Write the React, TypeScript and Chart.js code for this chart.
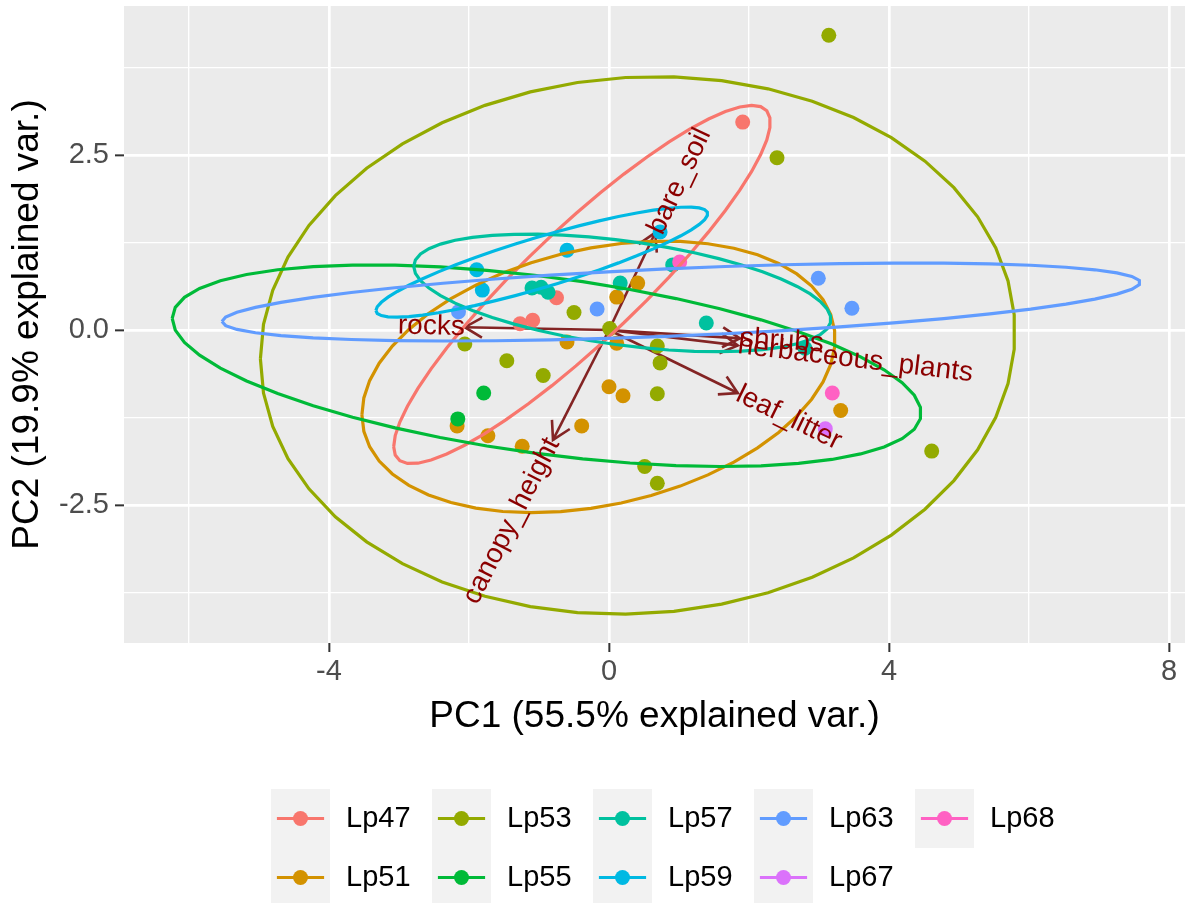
import React, { useEffect, useRef } from "react";
import { Chart, registerables } from "chart.js";

Chart.register(...registerables);

const FONT_FAMILY = '"Liberation Sans", Arial, Helvetica, sans-serif';

// ---- Groups and colours (ggplot hue palette) ----
const groupNames = ["Lp47", "Lp51", "Lp53", "Lp55", "Lp57", "Lp59", "Lp63", "Lp67", "Lp68"];
const groupColors = ["#F8766D", "#D39200", "#93AA00", "#00BA38", "#00C19F", "#00B9E3", "#619CFF", "#DB72FB", "#FF61C3"];

// ---- PC scores per group (PC1 = x, PC2 = y) ----
const lp47PC1 = [1.91, -0.75, -1.09, -1.27];
const lp47PC2 = [2.97, 0.46, 0.14, 0.09];
const lp51PC1 = [0.41, 0.11, -0.6, 0.11, 0.0, 0.2, -2.17, -1.73, -1.24, -0.39, 3.31];
const lp51PC2 = [0.67, 0.47, -0.17, -0.19, -0.81, -0.94, -1.37, -1.51, -1.66, -1.37, -1.15];
const lp53PC1 = [3.14, 2.4, -0.5, 0.01, -2.06, -1.46, -0.94, 0.69, 0.73, 0.69, 0.51, 0.69, 4.61];
const lp53PC2 = [4.21, 2.46, 0.25, 0.02, -0.2, -0.44, -0.65, -0.23, -0.47, -0.91, -1.95, -2.19, -1.73];
const lp55PC1 = [-1.79, -2.16];
const lp55PC2 = [-0.9, -1.27];
const lp57PC1 = [0.91, 0.16, -1.1, -0.97, -0.87, 1.39, 2.8];
const lp57PC2 = [0.93, 0.67, 0.6, 0.61, 0.54, 0.1, -0.26];
const lp59PC1 = [0.73, -0.6, -1.89, -1.81];
const lp59PC2 = [1.4, 1.14, 0.86, 0.57];
const lp63PC1 = [-2.15, -0.17, 2.99, 3.47];
const lp63PC2 = [0.26, 0.3, 0.74, 0.31];
const lp67PC1 = [3.09];
const lp67PC2 = [-1.41];
const lp68PC1 = [1.01, 3.19];
const lp68PC2 = [0.97, -0.9];

// ---- Concentration ellipses (centre, half extents along PC1/PC2, correlation) ----
const ellipseGroups = ["Lp47", "Lp51", "Lp53", "Lp55", "Lp57", "Lp59", "Lp63"];
const ellipseCx = [-0.386, -0.15, 0.41, -0.89, 0.19, -0.96, 1.03];
const ellipseCy = [0.65, -0.67, -0.22, -0.51, 0.53, 0.97, 0.4];
const ellipseHalfX = [2.69, 3.38, 5.39, 5.35, 2.98, 2.37, 6.56];
const ellipseHalfY = [2.56, 1.94, 3.84, 1.44, 0.84, 0.786, 0.557];
const ellipseRho = [0.905, 0.28, 0.05, -0.47, -0.45, 0.88, 0.5];

// ---- Variable loadings (arrows) ----
const varNames = ["bare_soil", "canopy_height", "herbaceous_plants", "leaf_litter", "rocks", "shrubs"];
const varPC1 = [0.66, -0.8, 1.84, 1.84, -2.06, 1.87];
const varPC2 = [1.39, -1.57, -0.22, -0.9, 0.04, -0.12];

// ---- Axes ----
const xAxisMin = -6.9286;
const xAxisMax = 8.2286;
const yAxisMin = -4.4714;
const yAxisMax = 4.6286;
const xMajorTicks = [-4, 0, 4, 8];
const xTickLabels = ["-4", "0", "4", "8"];
const xMinorTicks = [-6, -2, 2, 6];
const yMajorTicks = [-2.5, 0, 2.5];
const yTickLabels = ["-2.5", "0.0", "2.5"];
const yMinorTicks = [-3.75, -1.25, 1.25, 3.75];
const xTitle = "PC1 (55.5% explained var.)";
const yTitle = "PC2 (19.9% explained var.)";

const groupPC1 = [lp47PC1, lp51PC1, lp53PC1, lp55PC1, lp57PC1, lp59PC1, lp63PC1, lp67PC1, lp68PC1];
const groupPC2 = [lp47PC2, lp51PC2, lp53PC2, lp55PC2, lp57PC2, lp59PC2, lp63PC2, lp67PC2, lp68PC2];

const ARROW_COLOR = "#832424";
const LABEL_COLOR = "#8B0000";

const isMajor = (v: number, majors: number[]) => majors.some((m) => Math.abs(m - v) < 1e-9);

export default function App() {
  const ref = useRef<HTMLCanvasElement>(null);

  useEffect(() => {
    const canvas = ref.current;
    if (!canvas) return;

    const datasets: any[] = [];

    // arrow shafts (bottom layer)
    varNames.forEach((name, i) => {
      datasets.push({
        label: name,
        data: [
          { x: 0, y: 0 },
          { x: varPC1[i], y: varPC2[i] },
        ],
        showLine: true,
        borderColor: ARROW_COLOR,
        backgroundColor: ARROW_COLOR,
        borderWidth: 2.6,
        pointRadius: 0,
        fill: false,
        order: 100,
      });
    });

    // points
    groupNames.forEach((g, i) => {
      datasets.push({
        label: g,
        data: groupPC1[i].map((x, j) => ({ x, y: groupPC2[i][j] })),
        showLine: false,
        pointRadius: 7.5,
        pointHoverRadius: 7.5,
        pointBackgroundColor: groupColors[i],
        pointBorderColor: groupColors[i],
        pointBorderWidth: 0,
        order: 50 - i,
      });
    });

    // ellipses
    ellipseGroups.forEach((g, k) => {
      const gi = groupNames.indexOf(g);
      const rho = ellipseRho[k];
      const r = Math.sqrt(1 - rho * rho);
      const pts: { x: number; y: number }[] = [];
      const n = 50;
      for (let s = 0; s < n; s++) {
        const t = -Math.PI + (2 * Math.PI * s) / (n - 1);
        const c = Math.cos(t);
        const sn = Math.sin(t);
        pts.push({
          x: ellipseCx[k] + ellipseHalfX[k] * c,
          y: ellipseCy[k] + ellipseHalfY[k] * (rho * c + r * sn),
        });
      }
      datasets.push({
        label: g + " ellipse",
        data: pts,
        showLine: true,
        borderColor: groupColors[gi],
        backgroundColor: groupColors[gi],
        borderWidth: 3.2,
        pointRadius: 0,
        fill: false,
        tension: 0,
        order: 10 - k * 0.1,
      });
    });

    const backgroundPlugin = {
      id: "panelBackground",
      beforeDraw(chart: any) {
        const { ctx, chartArea } = chart;
        ctx.save();
        ctx.fillStyle = "#FFFFFF";
        ctx.fillRect(0, 0, chart.width, chart.height);
        ctx.fillStyle = "#EBEBEB";
        ctx.fillRect(chartArea.left, chartArea.top, chartArea.right - chartArea.left, chartArea.bottom - chartArea.top);
        ctx.restore();
      },
    };

    const arrowHeadPlugin = {
      id: "arrowHeads",
      beforeDatasetsDraw(chart: any) {
        const { ctx, chartArea } = chart;
        const xs = chart.scales.x;
        const ys = chart.scales.y;
        ctx.save();
        ctx.beginPath();
        ctx.rect(chartArea.left, chartArea.top, chartArea.right - chartArea.left, chartArea.bottom - chartArea.top);
        ctx.clip();
        ctx.strokeStyle = ARROW_COLOR;
        ctx.lineWidth = 2.6;
        ctx.lineJoin = "miter";
        const L = 20;
        const a = Math.PI / 6;
        varNames.forEach((_, i) => {
          const x0 = xs.getPixelForValue(0);
          const y0 = ys.getPixelForValue(0);
          const x1 = xs.getPixelForValue(varPC1[i]);
          const y1 = ys.getPixelForValue(varPC2[i]);
          const ang = Math.atan2(y1 - y0, x1 - x0);
          ctx.beginPath();
          ctx.moveTo(x1 - L * Math.cos(ang - a), y1 - L * Math.sin(ang - a));
          ctx.lineTo(x1, y1);
          ctx.lineTo(x1 - L * Math.cos(ang + a), y1 - L * Math.sin(ang + a));
          ctx.stroke();
        });
        ctx.restore();
      },
    };

    const varLabelPlugin = {
      id: "varLabels",
      afterDatasetsDraw(chart: any) {
        const { ctx } = chart;
        const xs = chart.scales.x;
        const ys = chart.scales.y;
        ctx.save();
        ctx.fillStyle = LABEL_COLOR;
        ctx.font = `28px ${FONT_FAMILY}`;
        ctx.textBaseline = "middle";
        varNames.forEach((name, i) => {
          const px = xs.getPixelForValue(varPC1[i]);
          const py = ys.getPixelForValue(varPC2[i]);
          const angle = Math.atan(varPC2[i] / varPC1[i]);
          ctx.save();
          ctx.translate(px, py);
          ctx.rotate(-angle);
          ctx.textAlign = varPC1[i] > 0 ? "left" : "right";
          ctx.fillText(name, 0, 0);
          ctx.restore();
        });
        ctx.restore();
      },
    };

    const legendPlugin = {
      id: "groupLegend",
      afterDraw(chart: any) {
        const { ctx } = chart;
        const keySize = 59;
        const colPitch = 161;
        const left0 = 271;
        const top0 = 789;
        ctx.save();
        groupNames.forEach((g, i) => {
          const col = Math.floor(i / 2);
          const row = i % 2;
          const kx = left0 + col * colPitch;
          const ky = top0 + row * keySize;
          ctx.fillStyle = "#F2F2F2";
          ctx.fillRect(kx, ky, keySize, keySize);
          const cy = ky + keySize / 2;
          ctx.strokeStyle = groupColors[i];
          ctx.lineWidth = 3.2;
          ctx.beginPath();
          ctx.moveTo(kx + keySize * 0.1, cy);
          ctx.lineTo(kx + keySize * 0.9, cy);
          ctx.stroke();
          ctx.fillStyle = groupColors[i];
          ctx.beginPath();
          ctx.arc(kx + keySize / 2, cy, 7.5, 0, Math.PI * 2);
          ctx.fill();
          ctx.fillStyle = "#000000";
          ctx.font = `29px ${FONT_FAMILY}`;
          ctx.textAlign = "left";
          ctx.textBaseline = "middle";
          ctx.fillText(g, kx + 75, cy);
        });
        ctx.restore();
      },
    };

    const chart = new Chart(canvas, {
      type: "scatter",
      data: { datasets },
      options: {
        responsive: false,
        animation: false,
        devicePixelRatio: 1,
        events: [],
        layout: { autoPadding: false, padding: { left: 0, top: 6, right: 2, bottom: 0 } },
        plugins: {
          legend: { display: false },
          tooltip: { enabled: false },
          title: { display: false },
        },
        scales: {
          x: {
            type: "linear",
            position: "bottom",
            min: xAxisMin,
            max: xAxisMax,
            afterBuildTicks: (s: any) => {
              s.ticks = [...xMinorTicks, ...xMajorTicks].sort((a, b) => a - b).map((v) => ({ value: v }));
            },
            afterFit: (s: any) => {
              s.height = 260;
              s.paddingLeft = 0;
              s.paddingRight = 0;
              s.paddingTop = 0;
              s.paddingBottom = 0;
            },
            border: { display: false },
            grid: {
              color: "#FFFFFF",
              lineWidth: (c: any) => (isMajor(c.tick?.value, xMajorTicks) ? 2.7 : 1.35),
              drawTicks: true,
              tickLength: 9,
              tickWidth: 2,
              tickColor: (c: any) => (isMajor(c.tick?.value, xMajorTicks) ? "#333333" : "rgba(0,0,0,0)"),
            },
            ticks: {
              autoSkip: false,
              maxRotation: 0,
              minRotation: 0,
              padding: 3,
              color: "#4D4D4D",
              font: { family: FONT_FAMILY, size: 29 },
              callback: (v: any) => {
                const idx = xMajorTicks.findIndex((m) => Math.abs(m - Number(v)) < 1e-9);
                return idx >= 0 ? xTickLabels[idx] : "";
              },
            },
            title: {
              display: true,
              text: xTitle,
              color: "#000000",
              font: { family: FONT_FAMILY, size: 37 },
              padding: { top: 0, bottom: 163.8 },
            },
          },
          y: {
            type: "linear",
            position: "left",
            min: yAxisMin,
            max: yAxisMax,
            afterBuildTicks: (s: any) => {
              s.ticks = [...yMinorTicks, ...yMajorTicks].sort((a, b) => a - b).map((v) => ({ value: v }));
            },
            afterFit: (s: any) => {
              s.width = 124;
              s.paddingLeft = 0;
              s.paddingRight = 0;
              s.paddingTop = 0;
              s.paddingBottom = 0;
            },
            border: { display: false },
            grid: {
              color: "#FFFFFF",
              lineWidth: (c: any) => (isMajor(c.tick?.value, yMajorTicks) ? 2.7 : 1.35),
              drawTicks: true,
              tickLength: 9,
              tickWidth: 2,
              tickColor: (c: any) => (isMajor(c.tick?.value, yMajorTicks) ? "#333333" : "rgba(0,0,0,0)"),
            },
            ticks: {
              autoSkip: false,
              padding: 6,
              color: "#4D4D4D",
              font: { family: FONT_FAMILY, size: 29 },
              callback: (v: any) => {
                const idx = yMajorTicks.findIndex((m) => Math.abs(m - Number(v)) < 1e-9);
                return idx >= 0 ? yTickLabels[idx] : "";
              },
            },
            title: {
              display: true,
              text: yTitle,
              color: "#000000",
              font: { family: FONT_FAMILY, size: 37 },
              padding: { top: 5.8, bottom: 0 },
            },
          },
        },
      } as any,
      plugins: [backgroundPlugin, arrowHeadPlugin, varLabelPlugin, legendPlugin],
    });

    return () => chart.destroy();
  }, []);

  return (
    <div style={{ position: "absolute", left: 0, top: 0, width: 1187, height: 903, background: "#FFFFFF" }}>
      <canvas ref={ref} width={1187} height={903} style={{ display: "block", width: 1187, height: 903 }} />
    </div>
  );
}
